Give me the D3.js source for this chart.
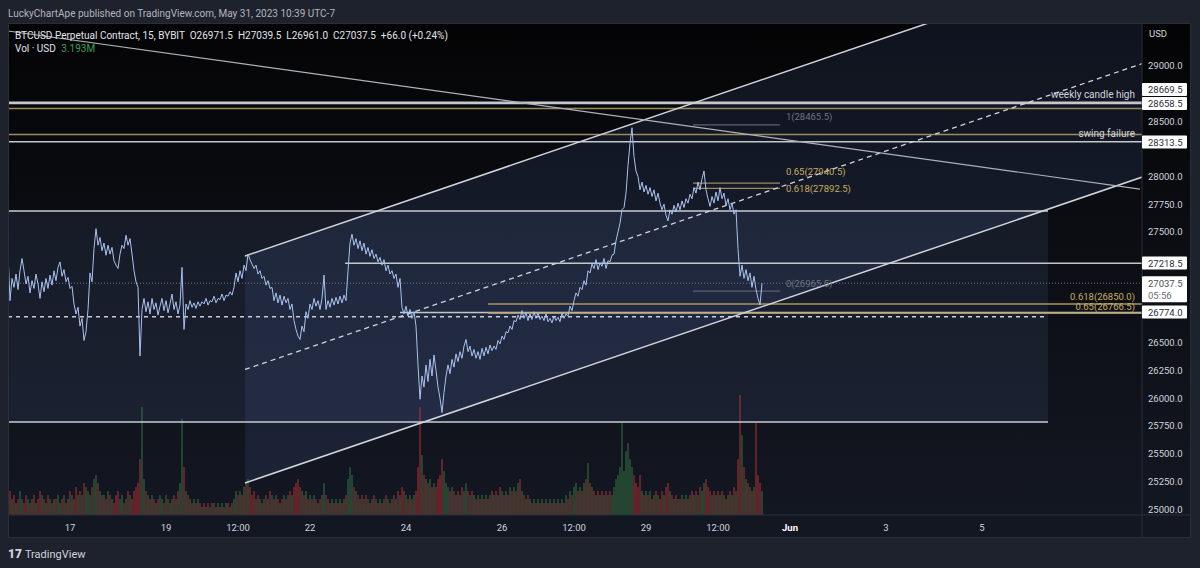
<!DOCTYPE html>
<html><head><meta charset="utf-8">
<script src="https://cdn.jsdelivr.net/npm/d3@7"></script>
<style>html,body{margin:0;padding:0;background:#1e222d;overflow:hidden}svg{display:block}</style>
</head><body><svg id="c" width="1200" height="568"></svg>
<script>
// ---------- DATA ----------
const startDay = 15 + 17/24; // May 15 17:00, hourly series
const prices = [
27300,26880,27080,27000,27120,26980,27150,27260,27150,27030,27100,26950,27060,26990,27120,27030,26900,27050,26960,27080,26990,27110,27020,27150,
27060,27180,27230,27100,27160,27050,27090,26990,27010,26850,26760,26820,26650,26720,26520,26600,26800,27130,27050,27350,27530,27380,27450,27330,
27400,27290,27380,27300,27360,27240,27200,27170,27300,27380,27350,27470,27380,27440,27300,27150,27050,27000,26380,26800,26900,26780,26870,26760,
26900,26800,26860,26750,26830,26900,26790,26880,26770,26850,26940,26800,26870,26760,26840,27180,26620,26850,26800,26880,26820,26860,26810,26870,
26830,26870,26850,26900,26840,26880,26870,26920,26860,26900,26890,26940,26880,26930,26920,26960,26930,27000,27130,27050,27150,27080,27200,27150,
27300,27250,27210,27170,27200,27120,27150,27080,27100,27020,27060,26990,27000,26880,26950,26860,26930,26840,26920,26860,26900,26800,26850,26700,
26620,26560,26530,26650,26600,26780,26720,26850,26800,26900,26830,26880,26800,26900,27110,26800,26880,26820,26900,26840,26910,26850,26920,26860,
26930,26880,27150,27400,27480,27380,27440,27350,27420,27330,27400,27300,27360,27280,27340,27260,27300,27230,27270,27200,27250,27150,27200,27120,
27150,27080,27120,27000,27080,26820,26760,26830,26740,26800,26720,26780,26650,26300,25990,26200,26100,26300,26150,26350,26200,26390,26250,26100,
26000,25870,26050,26200,26300,26220,26350,26280,26400,26330,26420,26360,26470,26530,26420,26470,26380,26440,26360,26420,26350,26450,26380,26460,
26400,26480,26430,26470,26440,26520,26490,26560,26530,26600,26590,26650,26620,26700,26690,26750,26710,26790,26720,26770,26700,26760,26710,26780,
26720,26770,26710,26740,26700,26760,26690,26720,26680,26740,26700,26730,26690,26770,26720,26760,26740,26830,26790,26880,26950,26920,27000,26980,
27060,27020,27150,27130,27210,27170,27250,27160,27220,27190,27260,27170,27240,27230,27290,27300,27420,27500,27580,27700,27720,27850,28100,28300,
28440,28180,28050,28000,27880,27950,27860,27920,27840,27900,27820,27880,27780,27850,27760,27700,27750,27650,27600,27700,27660,27740,27680,27760,
27700,27780,27720,27800,27760,27840,27800,27900,27850,27950,27880,27980,28050,27880,27800,27730,27820,27760,27860,27780,27900,27800,27850,27740,
27800,27700,27760,27660,27700,27350,27100,27200,27080,27160,27060,27130,27000,27100,26980,26900,26840,27037.5
];
const volumes = [
5,6,4,5,3,4,6,4,3,5,4,3,4,5,3,4,6,5,4,3,5,4,3,4,
4,5,3,4,5,3,4,6,5,4,7,5,6,5,8,7,6,5,7,9,10,8,6,5,
5,4,6,5,4,3,5,6,4,5,3,4,6,5,4,6,7,8,14,27,9,6,5,4,
5,4,3,4,5,4,3,5,4,3,4,5,4,6,8,24,12,6,5,4,3,4,3,4,
3,2,3,2,3,2,3,3,2,3,2,3,2,3,3,2,3,4,6,5,6,5,7,8,
9,7,5,6,4,5,4,3,4,5,4,6,5,4,5,4,3,4,5,4,5,6,5,7,
8,9,7,6,5,6,4,5,4,5,4,3,4,5,8,5,4,3,4,3,4,3,4,3,
4,5,9,12,10,7,6,5,4,5,4,5,4,3,4,5,4,3,4,3,4,5,4,3,
4,5,4,6,5,7,6,5,4,5,4,5,6,12,27,15,10,9,8,9,7,8,7,9,
10,14,11,8,7,6,7,6,5,6,5,7,6,8,6,5,6,5,4,5,4,5,4,5,
4,5,6,5,6,5,7,6,5,6,5,7,6,7,6,8,9,6,5,4,5,4,3,4,
3,4,3,4,3,4,3,4,3,4,3,4,3,4,3,5,4,6,5,7,8,6,7,6,
8,9,13,8,7,6,5,6,5,6,5,6,5,6,5,7,9,10,12,23,11,16,18,14,
12,10,8,7,10,6,5,6,5,6,4,5,6,5,4,6,5,7,8,6,5,4,5,4,
4,5,4,5,4,5,6,5,6,5,7,6,8,9,7,6,5,6,5,6,5,6,5,4,
5,6,5,7,6,14,30,20,12,9,8,7,6,7,23,10,8,6
];
const priceTicks = d3.range(25000, 29001, 250);
const timeTickDays = [17, 19, 20.5, 22, 24, 26, 27.5, 29, 30.5, 32, 34, 36];
const timeTickLabels = ["17","19","12:00","22","24","26","12:00","29","12:00","Jun","3","5"];

const rectDays = [15.0, 37.375];
const rectPrices = [25785, 27690];
const channelDays = [20.646, 39.29];
const channelLower = [25235, 27988];
const channelWidth = 2048;
const trendDays = [15.708, 39.29];
const trendPrices = [29313, 27887];

const whiteLevels = [28669.5, 28658.5, 28313.5];
const goldLevels = [28614, 28379];
const rayLevels = [27218.5, 26774.0];
const rayStartDays = [22.73, 23.875];
const dashedLevel = 26735;
const lastPrice = 27037.5;

const fib1Days = [29.98, 31.79];
const fib1Levels = [28465.5, 27940.5, 27892.5, 26965.5];
const fib1Labels = ["1(28465.5)", "0.65(27940.5)", "0.618(27892.5)", "0(26965.5)"];
const fib1Gold = [false, true, true, false];
const fib2StartDay = 25.71;
const fib2Levels = [26850.0, 26766.5];
const fib2Labels = ["0.618(26850.0)", "0.65(26766.5)"];

const axisBoxes = [
  {v: 28669.5, t: "28669.5", cy: 89.5},
  {v: 28658.5, t: "28658.5", cy: 103.5},
  {v: 28313.5, t: "28313.5", cy: 142},
  {v: 27218.5, t: "27218.5", cy: 263},
  {v: 26774.0, t: "26774.0", cy: 312}
];

// ---------- LAYOUT ----------
const PX0 = 8, PX1 = 1142, PY0 = 23, PY1 = 515, AXR = 1191, TAB = 538;
const FONT = "Roboto, 'Liberation Sans', sans-serif";
const svg = d3.select("#c");
const x = d3.scaleLinear().domain([17, 32]).range([70, 790]);
const y = d3.scaleLinear().domain([25000, 29000]).range([509, 65.7]);
const vy = d3.scaleLinear().domain([0, 30]).range([PY1, 395]);
const tDay = i => startDay + i / 24;

const defs = svg.append("defs");
const g = defs.append("linearGradient").attr("id", "bg").attr("x1", 0).attr("y1", 0).attr("x2", 0).attr("y2", 1);
g.append("stop").attr("offset", 0).attr("stop-color", "#040405");
g.append("stop").attr("offset", 0.45).attr("stop-color", "#0c0e14");
g.append("stop").attr("offset", 1).attr("stop-color", "#141823");
defs.append("clipPath").attr("id", "pane").append("rect")
  .attr("x", PX0).attr("y", PY0).attr("width", PX1 - PX0).attr("height", PY1 - PY0);

// page text
svg.append("text").attr("x", 8).attr("y", 16.5).attr("fill", "#b2b5be")
  .style("font", `10px ${FONT}`).text("LuckyChartApe published on TradingView.com, May 31, 2023 10:39 UTC-7");

// pane background
svg.append("rect").attr("x", PX0).attr("y", PY0).attr("width", AXR - PX0).attr("height", TAB - PY0).attr("fill", "url(#bg)");
svg.append("rect").attr("x", PX0).attr("y", PY1).attr("width", AXR - PX0).attr("height", TAB - PY1).attr("fill", "#131722");

const pane = svg.append("g").attr("clip-path", "url(#pane)");

// rectangle fill
pane.append("rect")
  .attr("x", x(rectDays[0])).attr("y", y(rectPrices[1]))
  .attr("width", x(rectDays[1]) - x(rectDays[0])).attr("height", y(rectPrices[0]) - y(rectPrices[1]))
  .attr("fill", "rgba(100,125,185,0.13)");

// channel
const slope = (channelLower[1] - channelLower[0]) / (channelDays[1] - channelDays[0]);
const chanAt = (d, off) => channelLower[0] + slope * (d - channelDays[0]) + off;
const dEnd = x.invert(PX1 + 5);
pane.append("path")
  .attr("d", d3.line()([
    [x(channelDays[0]), y(chanAt(channelDays[0], 0))],
    [x(dEnd), y(chanAt(dEnd, 0))],
    [x(dEnd), y(chanAt(dEnd, channelWidth))],
    [x(channelDays[0]), y(chanAt(channelDays[0], channelWidth))]
  ]) + "Z")
  .attr("fill", "rgba(90,125,200,0.13)");

// volume
pane.append("g").selectAll("rect").data(volumes).join("rect")
  .attr("x", (d, i) => x(tDay(i)) - 0.8).attr("width", 1.6)
  .attr("y", d => vy(d)).attr("height", d => PY1 - vy(d))
  .attr("fill", (d, i) => (i === 0 || prices[i] >= prices[i - 1]) ? "rgba(60,140,75,0.5)" : "rgba(200,55,55,0.55)");

// helper for horizontal segments
function hline(p, d0x, d1x, color, w, dash) {
  const l = pane.append("line").attr("x1", d0x).attr("x2", d1x).attr("y1", y(p)).attr("y2", y(p))
    .attr("stroke", color).attr("stroke-width", w);
  if (dash) l.attr("stroke-dasharray", dash);
  return l;
}

// rectangle borders
rectPrices.forEach(p => hline(p, x(rectDays[0]), x(rectDays[1]), "#c9ccd3", 1.5));

// dotted last price
hline(lastPrice, PX0, PX1, "#6f7380", 1, "1,2");
// dashed level
hline(dashedLevel, PX0, x(rectDays[1]), "#c9ccd3", 1.5, "4,4");

// full-width levels
goldLevels.forEach(p => hline(p, PX0, PX1, "#9c8a5c", 1.5));
whiteLevels.forEach(p => hline(p, PX0, PX1, "#c4c7ce", 1.5));
// rays
rayLevels.forEach((p, i) => hline(p, x(rayStartDays[i]), PX1, "#c4c7ce", 1.5));
// fib2
fib2Levels.forEach(p => hline(p, x(fib2StartDay), PX1, "#a8955f", 1.5));
// fib1
fib1Levels.forEach((p, i) => hline(p, x(fib1Days[0]), x(fib1Days[1]), fib1Gold[i] ? "#9c8a5c" : "#5d6170", 1.2));

// channel lines
const cl = off => d3.line()([[x(channelDays[0]), y(chanAt(channelDays[0], off))], [x(dEnd), y(chanAt(dEnd, off))]]);
pane.append("path").attr("d", cl(0)).attr("stroke", "#d1d4dc").attr("stroke-width", 1.5).attr("fill", "none");
pane.append("path").attr("d", cl(channelWidth)).attr("stroke", "#d1d4dc").attr("stroke-width", 1.5).attr("fill", "none");
pane.append("path").attr("d", cl(channelWidth / 2)).attr("stroke", "#d1d4dc").attr("stroke-width", 1.3)
  .attr("stroke-dasharray", "5,4").attr("fill", "none");

// descending trend line
pane.append("line").attr("x1", x(trendDays[0])).attr("y1", y(trendPrices[0]))
  .attr("x2", x(trendDays[1])).attr("y2", y(trendPrices[1])).attr("stroke", "#aeb1ba").attr("stroke-width", 1.2);

// price line
pane.append("path").datum(prices)
  .attr("d", d3.line().x((d, i) => x(tDay(i))).y(d => y(d)))
  .attr("fill", "none").attr("stroke", "#aac2ee").attr("stroke-width", 1);

// labels in pane
const T = (xx, yy, txt, col, size, anchor) => pane.append("text").attr("x", xx).attr("y", yy)
  .attr("fill", col).attr("text-anchor", anchor || "start").style("font", `${size}px ${FONT}`).text(txt);
T(1135, 98, "weekly candle high", "#d1d4dc", 10, "end");
T(1135, 136.5, "swing failure", "#d1d4dc", 10, "end");
const fib1Dy = [-4.5, -8, 4, -4.5];
fib1Levels.forEach((p, i) => T(x(fib1Days[1]) + 6, y(p) + fib1Dy[i], fib1Labels[i], fib1Gold[i] ? "#c9ad62" : "#6f7380", 9.5));
fib2Levels.forEach((p, i) => T(1135, y(p) - 3.5, fib2Labels[i], "#c9ad62", 9.5, "end"));

// title
const title = svg.append("text").attr("x", 15).attr("y", 38.5).attr("fill", "#e0e3eb").style("font", `10px ${FONT}`)
  .attr("xml:space", "preserve");
title.text("BTCUSD Perpetual Contract, 15, BYBIT  O26971.5  H27039.5  L26961.0  C27037.5  +66.0 (+0.24%)");
const vol = svg.append("text").attr("x", 15).attr("y", 52).attr("fill", "#e0e3eb").style("font", `10px ${FONT}`);
vol.append("tspan").text("Vol · USD ");
vol.append("tspan").attr("fill", "#3f9e5a").attr("dx", 3).text("3.193M");

// right axis
svg.append("line").attr("x1", PX1).attr("x2", PX1).attr("y1", PY0).attr("y2", TAB).attr("stroke", "#2a2e39");
svg.append("rect").attr("x", PX0 + 0.5).attr("y", PY0 + 0.5).attr("width", AXR - PX0 - 1).attr("height", TAB - PY0 - 1)
  .attr("fill", "none").attr("stroke", "#2a2e39");
svg.append("line").attr("x1", PX0).attr("x2", AXR).attr("y1", PY1).attr("y2", PY1).attr("stroke", "#2a2e39");
svg.append("text").attr("x", 1149).attr("y", 37).attr("fill", "#d1d4dc").style("font", `9.5px ${FONT}`).text("USD");

const boxSpans = axisBoxes.map(b => [b.cy - 6.5, b.cy + 6.5]).concat([[y(lastPrice) - 7, y(lastPrice) + 19]]);
const visibleTicks = priceTicks.filter(v => !boxSpans.some(s => y(v) + 5 > s[0] && y(v) - 5 < s[1]));
svg.append("g").selectAll("text").data(visibleTicks).join("text")
  .attr("x", 1148).attr("y", d => y(d) + 3.5).attr("fill", "#d1d4dc").style("font", `9.5px ${FONT}`)
  .text(d => d3.format(".1f")(d));

// boxes
axisBoxes.forEach(b => {
  svg.append("rect").attr("x", 1142).attr("y", b.cy - 6.5).attr("width", 45).attr("height", 13)
    .attr("fill", "#ffffff").attr("rx", 1);
  svg.append("text").attr("x", 1148).attr("y", b.cy + 3.5).attr("fill", "#2a2e39").style("font", `9.5px ${FONT}`).text(b.t);
});
svg.append("rect").attr("x", 1142).attr("y", y(lastPrice) - 7).attr("width", 45).attr("height", 26).attr("fill", "#ffffff").attr("rx", 1);
svg.append("text").attr("x", 1148).attr("y", y(lastPrice) + 3.5).attr("fill", "#4a4e59").style("font", `9.5px ${FONT}`).text("27037.5");
svg.append("text").attr("x", 1148).attr("y", y(lastPrice) + 16).attr("fill", "#6a6e79").style("font", `9.5px ${FONT}`).text("05:56");

// time axis
svg.append("g").selectAll("text").data(timeTickDays).join("text")
  .attr("x", d => x(d)).attr("y", 530.5).attr("text-anchor", "middle")
  .attr("fill", (d, i) => timeTickLabels[i] === "Jun" ? "#ffffff" : "#d1d4dc")
  .style("font", (d, i) => `${timeTickLabels[i] === "Jun" ? "bold " : ""}9.5px ${FONT}`)
  .text((d, i) => timeTickLabels[i]);

// logo
const logo = svg.append("text").attr("x", 8).attr("y", 558).style("font", `11px ${FONT}`).attr("fill", "#d1d4dc");
logo.append("tspan").style("font-weight", "900").style("font-size", "12px").text("17");
logo.append("tspan").attr("dx", 3).text("TradingView");
</script></body></html>
